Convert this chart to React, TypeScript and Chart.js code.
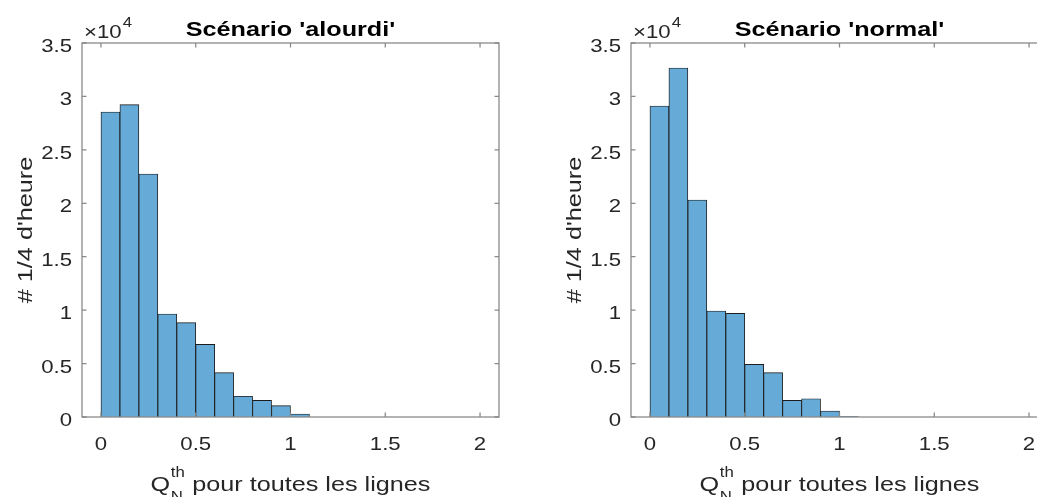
import React, { useEffect, useRef } from "react";
import { Chart, registerables } from "chart.js";

Chart.register(...registerables);

// ---- Data ----
const binCenters = [0.05, 0.15, 0.25, 0.35, 0.45, 0.55, 0.65, 0.75, 0.85, 0.95, 1.05, 1.15, 1.25, 1.35, 1.45, 1.55, 1.65, 1.75, 1.85, 1.95];
const alourdiCounts = [28540, 29230, 22740, 9640, 8830, 6800, 4150, 1940, 1560, 1060, 280, 0, 0, 0, 0, 0, 0, 0, 0, 0];
const normalCounts = [29100, 32660, 20310, 9920, 9700, 4930, 4150, 1560, 1710, 560, 50, 0, 0, 0, 0, 0, 0, 0, 0, 0];
const xTickValues = [0, 0.5, 1, 1.5, 2];
const yTickValues = [0, 5000, 10000, 15000, 20000, 25000, 30000, 35000];
const yExponentScale = 10000;
const titleAlourdi = "Scénario 'alourdi'";
const titleNormal = "Scénario 'normal'";
const yAxisLabel = "# 1/4 d'heure";
const xLabelBase = "Q";
const xLabelSup = "th";
const xLabelSub = "N";
const xLabelRest = " pour toutes les lignes";
const exponentBase = "×10";
const exponentPower = "4";

const FONT = "'Liberation Sans', Arial, Helvetica, sans-serif";
const TEXT = "#262626";
const BAR_FILL = "#66AAD7";
const BAR_EDGE = "#1c1c1c";
const AXIS = "#8a8a8a";
const STRETCH = 1.2; // glyphs in the reference are wider along the text direction

const TICK_PX = 18.5;
const LABEL_PX = 21;
const SMALL_PX = 14;

const CANVAS_W = 520;
const CANVAS_H = 497;

function stretchedText(ctx: CanvasRenderingContext2D, text: string, x: number, y: number, align: CanvasTextAlign, font: string) {
  ctx.save();
  ctx.font = font;
  ctx.translate(x, y);
  ctx.scale(STRETCH, 1);
  ctx.textAlign = align;
  ctx.textBaseline = "alphabetic";
  ctx.fillText(text, 0, 0);
  ctx.restore();
}

function measure(ctx: CanvasRenderingContext2D, text: string, font: string) {
  ctx.save();
  ctx.font = font;
  const w = ctx.measureText(text).width * STRETCH;
  ctx.restore();
  return w;
}

function makeDecor(title: string) {
  return {
    id: "matlabDecor",
    afterDraw(chart: any) {
      const { ctx, chartArea: ca, scales } = chart;
      const xs = scales.x;
      const ys = scales.y;
      ctx.save();
      // box
      ctx.strokeStyle = AXIS;
      ctx.lineWidth = 1.3;
      ctx.strokeRect(ca.left, ca.top, ca.right - ca.left, ca.bottom - ca.top);
      // inward ticks
      const tl = 4.5;
      ctx.beginPath();
      for (const t of xs.ticks) {
        const px = xs.getPixelForValue(t.value);
        ctx.moveTo(px, ca.bottom);
        ctx.lineTo(px, ca.bottom - tl);
        ctx.moveTo(px, ca.top);
        ctx.lineTo(px, ca.top + tl);
      }
      for (const t of ys.ticks) {
        const py = ys.getPixelForValue(t.value);
        ctx.moveTo(ca.left, py);
        ctx.lineTo(ca.left + tl, py);
        ctx.moveTo(ca.right, py);
        ctx.lineTo(ca.right - tl, py);
      }
      ctx.stroke();

      const tickFont = `${TICK_PX}px ${FONT}`;
      const labelFont = `${LABEL_PX}px ${FONT}`;
      const smallFont = `${SMALL_PX}px ${FONT}`;
      ctx.fillStyle = TEXT;

      // tick labels (from the scales)
      xs.ticks.forEach((t: any, i: number) => {
        const label = xs.getLabelForValue ? String(xs._tickLabelText ? xs._tickLabelText[i] : t.label) : t.label;
        stretchedText(ctx, String(t.label ?? label), xs.getPixelForValue(t.value), ca.bottom + 33, "center", tickFont);
      });
      ys.ticks.forEach((t: any) => {
        stretchedText(ctx, String(t.label), ca.left - 10, ys.getPixelForValue(t.value) + 9, "right", tickFont);
      });

      // title
      ctx.fillStyle = "#000";
      stretchedText(ctx, title, (ca.left + ca.right) / 2, 35.5, "center", `bold ${LABEL_PX}px ${FONT}`);

      // exponent label
      ctx.fillStyle = TEXT;
      const ex = ca.left + 2;
      stretchedText(ctx, exponentBase, ex, 38, "left", tickFont);
      const wb = measure(ctx, exponentBase, tickFont);
      stretchedText(ctx, exponentPower, ex + wb + 1, 27, "left", smallFont);

      // y label (rotated)
      ctx.save();
      ctx.translate(32, (ca.top + ca.bottom) / 2);
      ctx.rotate(-Math.PI / 2);
      stretchedText(ctx, yAxisLabel, 0, 0, "center", labelFont);
      ctx.restore();

      // x label with superscript / subscript
      const wQ = measure(ctx, xLabelBase, labelFont);
      const wRest = measure(ctx, xLabelRest, labelFont);
      const wSup = measure(ctx, xLabelSup, smallFont);
      const wSub = measure(ctx, xLabelSub, smallFont);
      const wMid = Math.max(wSup, wSub) + 1;
      const total = wQ + wMid + wRest;
      const x0 = (ca.left + ca.right) / 2 - total / 2;
      const base = 491;
      stretchedText(ctx, xLabelBase, x0, base, "left", labelFont);
      stretchedText(ctx, xLabelSup, x0 + wQ + 0.5, base - 14.5, "left", smallFont);
      stretchedText(ctx, xLabelSub, x0 + wQ + 0.5, base + 10, "left", smallFont);
      stretchedText(ctx, xLabelRest, x0 + wQ + wMid, base, "left", labelFont);
      ctx.restore();
    },
  };
}

function Histogram({ counts, title, left }: { counts: number[]; title: string; left: number }) {
  const ref = useRef<HTMLCanvasElement | null>(null);
  useEffect(() => {
    if (!ref.current) return;
    const chart = new Chart(ref.current, {
      type: "bar",
      data: {
        datasets: [
          {
            data: binCenters.map((x, i) => ({ x, y: counts[i] })),
            backgroundColor: BAR_FILL,
            borderColor: BAR_EDGE,
            borderWidth: 0.9,
            borderSkipped: "start",
            barPercentage: 1,
            categoryPercentage: 1,
          },
        ],
      },
      options: {
        responsive: false,
        animation: false,
        devicePixelRatio: 1,
        layout: { padding: { top: 43, right: 21, left: 0, bottom: 0 } },
        plugins: { legend: { display: false }, tooltip: { enabled: false }, title: { display: false } },
        scales: {
          x: {
            type: "linear",
            min: -0.1,
            max: 2.1,
            offset: false,
            grid: { display: false, drawTicks: false, offset: false },
            border: { display: false },
            afterBuildTicks: (s: any) => {
              s.ticks = xTickValues.map((v) => ({ value: v }));
            },
            afterFit: (s: any) => {
              s.height = 80;
            },
            ticks: {
              display: false,
              autoSkip: false,
              callback: (v: any) => String(v),
            },
          },
          y: {
            type: "linear",
            min: 0,
            max: 35000,
            grid: { display: false, drawTicks: false },
            border: { display: false },
            afterBuildTicks: (s: any) => {
              s.ticks = yTickValues.map((v) => ({ value: v }));
            },
            afterFit: (s: any) => {
              s.width = 82;
            },
            ticks: {
              display: false,
              autoSkip: false,
              callback: (v: any) => String(Number(v) / yExponentScale),
            },
          },
        },
      },
      plugins: [makeDecor(title)],
    });
    return () => chart.destroy();
  }, [counts, title]);
  return (
    <canvas
      ref={ref}
      width={CANVAS_W}
      height={CANVAS_H}
      style={{ position: "absolute", left, top: 0, width: CANVAS_W, height: CANVAS_H }}
    />
  );
}

export default function App() {
  return (
    <div
      style={{
        position: "absolute",
        left: 0,
        top: 0,
        width: 1037,
        height: 497,
        overflow: "hidden",
        background: "#fff",
      }}
    >
      <Histogram counts={alourdiCounts} title={titleAlourdi} left={0} />
      <Histogram counts={normalCounts} title={titleNormal} left={549} />
    </div>
  );
}
